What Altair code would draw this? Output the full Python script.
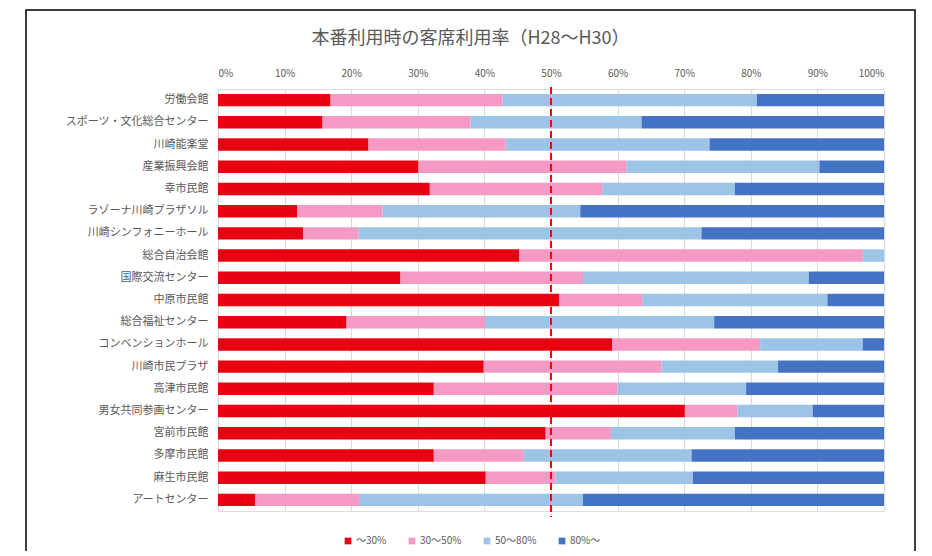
import altair as alt
import pandas as pd

facilities = [
    "労働会館", "スポーツ・文化総合センター", "川崎能楽堂", "産業振興会館", "幸市民館",
    "ラゾーナ川崎プラザソル", "川崎シンフォニーホール", "総合自治会館", "国際交流センター",
    "中原市民館", "総合福祉センター", "コンベンションホール", "川崎市民プラザ", "高津市民館",
    "男女共同参画センター", "宮前市民館", "多摩市民館", "麻生市民館", "アートセンター",
]
series = ["～30%", "30～50%", "50～80%", "80%～"]
under30 = [16.9, 15.7, 22.6, 30.1, 31.8, 11.9, 12.8, 45.2, 27.4, 51.2, 19.3, 59.2, 39.9, 32.4, 70.1, 49.2, 32.4, 40.2, 5.6]
r30_50 = [25.8, 22.2, 20.6, 31.2, 25.9, 12.8, 8.3, 51.6, 27.4, 12.5, 20.8, 22.2, 26.7, 27.6, 7.9, 9.8, 13.5, 10.5, 15.7]
r50_80 = [38.2, 25.7, 30.6, 29.0, 19.9, 29.7, 51.5, 3.2, 33.9, 27.8, 34.4, 15.4, 17.5, 19.3, 11.3, 18.6, 25.2, 20.6, 33.5]
over80 = [19.1, 36.4, 26.2, 9.7, 22.4, 45.6, 27.4, 0.0, 11.3, 8.5, 25.5, 3.2, 15.9, 20.7, 10.7, 22.4, 28.9, 28.7, 45.2]
colors = ["#E60012", "#F49AC4", "#9DC3E6", "#4472C4"]
ticks = [0, 10, 20, 30, 40, 50, 60, 70, 80, 90, 100]
threshold = [50]

rows = []
for i, f in enumerate(facilities):
    for k, (s, vals) in enumerate(zip(series, [under30, r30_50, r50_80, over80])):
        rows.append({"施設": f, "区分": s, "割合": vals[i], "順": k})
df = pd.DataFrame(rows)

FONT = "Noto Sans CJK JP"
W, H = 666, 422

bars = alt.Chart(df).mark_bar().encode(
    x=alt.X("sum(割合):Q", stack="zero",
            scale=alt.Scale(domain=[0, 100], nice=False),
            axis=alt.Axis(orient="top", values=ticks, labelExpr="datum.value + '%'",
                          domain=False, ticks=False, grid=True, gridColor="#D9D9D9",
                          labelFontSize=10, labelColor="#595959", labelPadding=11,
                          labelFont=FONT, title=None)),
    y=alt.Y("施設:N", sort=facilities,
            scale=alt.Scale(paddingInner=0.44, paddingOuter=0.22),
            axis=alt.Axis(domain=False, ticks=False, labelFontSize=11, labelColor="#595959",
                          labelPadding=10, labelFont=FONT, title=None)),
    color=alt.Color("区分:N", sort=series,
                    scale=alt.Scale(domain=series, range=colors),
                    legend=alt.Legend(orient="none", legendX=125, legendY=447,
                                      direction="horizontal", title=None,
                                      symbolType="square", symbolSize=45, symbolStrokeWidth=0,
                                      labelFontSize=10, labelColor="#595959", labelFont=FONT,
                                      columnPadding=20, labelOffset=3)),
    order=alt.Order("順:Q"),
)

rule = alt.Chart(pd.DataFrame({"x": threshold})).mark_rule(
    color="#FF0000", strokeWidth=2, strokeDash=[7, 4]
).encode(x="x:Q", y=alt.value(-2), y2=alt.value(H + 6))

border = alt.Chart(pd.DataFrame({"x": threshold})).mark_rect(
    fill=None, filled=False, stroke="#000000", strokeWidth=1.5
).encode(x=alt.value(-192), x2=alt.value(697), y=alt.value(-79), y2=alt.value(H + 60))

chart = alt.layer(border, bars, rule).properties(
    width=W, height=H,
    title=alt.Title("本番利用時の客席利用率（H28～H30）", fontSize=18, font=FONT,
                    color="#595959", fontWeight="normal", anchor="middle", frame="bounds",
                    offset=-39),
    padding={"left": 210, "top": 81, "right": 36, "bottom": 40},
    autosize=alt.AutoSizeParams(type="none"),
).configure_view(stroke=None).configure(background="white")

chart.save("out.html", embed_options={"renderer": "svg", "actions": False})
